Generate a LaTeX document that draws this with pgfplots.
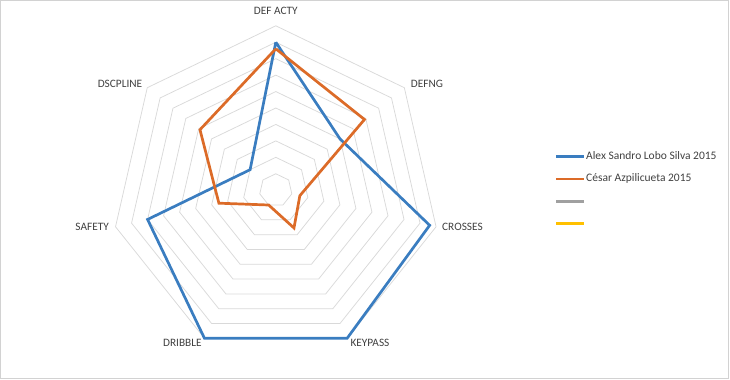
\documentclass[border=0pt]{standalone}
\usepackage{pgfplots}
\pgfplotsset{compat=1.18}
\usepgfplotslibrary{polar}
\usepackage{fontspec}
\setmainfont{Carlito}
\definecolor{sblue}{RGB}{58,125,192}
\definecolor{sorange}{RGB}{220,107,40}
\definecolor{sgrey}{RGB}{160,160,160}
\definecolor{syellow}{RGB}{255,192,0}
\definecolor{gridc}{RGB}{217,217,217}
\definecolor{labelc}{RGB}{64,64,64}
\definecolor{framec}{RGB}{210,210,210}
\begin{document}
\begin{tikzpicture}
\useasboundingbox (0,0) rectangle (730bp,380bp);
\draw[framec, line width=1.3bp] (0.7bp,1.3bp) rectangle (728.3bp,379.3bp);
\begin{polaraxis}[
  at={(275.8bp,189.8bp)}, anchor=origin,
  scale only axis, width=328.8bp, height=328.8bp,
  ymin=0, ymax=10,
  hide axis, clip=false,
  legend image code/.code={\draw[#1] (0bp,0bp) -- (28bp,0bp);},
  legend cell align=left,
  legend style={at={(1.349,0.619)}, anchor=north west, draw=none, fill=none,
    inner sep=0pt, outer sep=0pt, row sep=11.4bp,
    nodes={inner sep=0.5bp, text height=8bp, text depth=2bp,
      font=\fontsize{11.5bp}{13bp}\selectfont, text=labelc}},
]
\pgfplotsinvokeforeach{1,...,10}{
  \addplot[gridc, line width=0.75bp, forget plot] coordinates {(90,#1) (38.5714,#1) (-12.8571,#1) (-64.2857,#1) (-115.7143,#1) (-167.1429,#1) (141.4286,#1) (90,#1)};
}
% Alex Sandro Lobo Silva 2015
\addplot[sblue, line width=2.7bp] coordinates {(90,9.0) (38.5714,5.0) (-12.8571,9.6) (-64.2857,10) (-115.7143,10) (-167.1429,8.0) (141.4286,2.0) (90,9.0)};
\addlegendentry{Alex Sandro Lobo Silva 2015}
% César Azpilicueta 2015
\addplot[sorange, line width=2.7bp] coordinates {(90,8.6) (38.5714,6.9) (-12.8571,1.5) (-64.2857,2.55) (-115.7143,1.0) (-167.1429,3.55) (141.4286,5.9) (90,8.6)};
\addlegendentry{César Azpilicueta 2015}
\addlegendimage{sgrey, line width=2.7bp}
\addlegendentry{}
\addlegendimage{syellow, line width=2.7bp}
\addlegendentry{}
\tikzset{lab/.style={text=labelc, font=\fontsize{11.3bp}{13bp}\selectfont, inner sep=0pt}}
\node[lab] at (axis cs:90,10.9) {DEF ACTY};
\node[lab] at (axis cs:35.0,11.23) {DEFNG};
\node[lab] at (axis cs:-11.06,11.57) {CROSSES};
\node[lab] at (axis cs:-58.3,10.9) {KEYPASS};
\node[lab] at (axis cs:-121.5,10.88) {DRIBBLE};
\node[lab] at (axis cs:191.24,11.39) {SAFETY};
\node[lab] at (axis cs:145.8,11.46) {DSCPLINE};
\end{polaraxis}
\end{tikzpicture}
\end{document}
